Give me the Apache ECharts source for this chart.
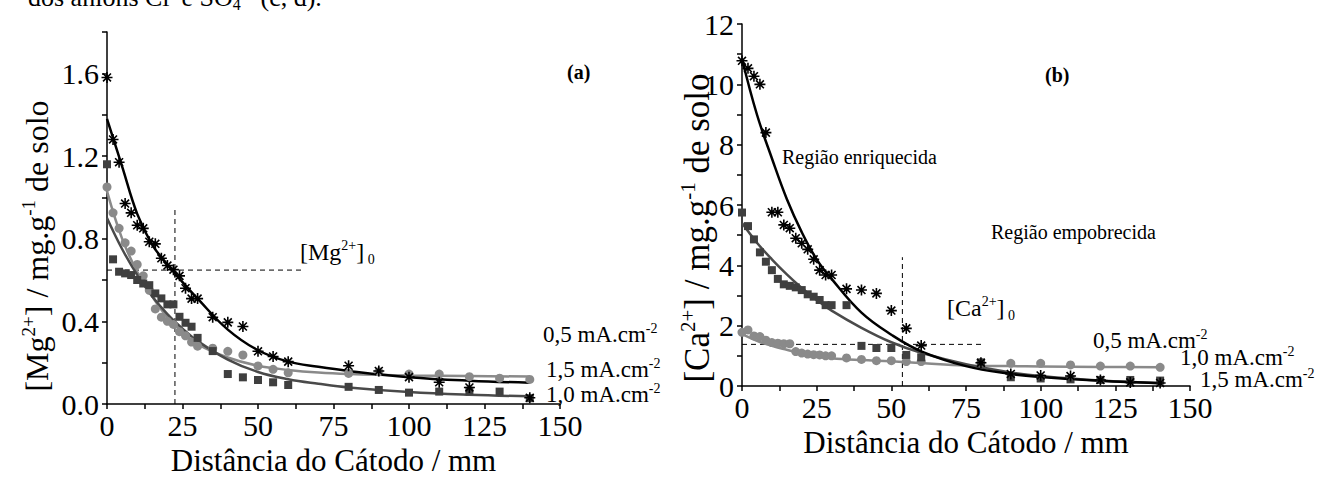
<!DOCTYPE html>
<html>
<head>
<meta charset="utf-8">
<title>Mg2+ e Ca2+ vs distância do cátodo</title>
<script src="https://cdn.jsdelivr.net/npm/echarts@6/dist/echarts.min.js"></script>
<style>
  html, body { margin: 0; padding: 0; background: #fff; }
  #chart { width: 1322px; height: 482px; }
</style>
</head>
<body>
<div id="chart"></div>
<script>
// ---- data: (a) Mg2+, mg/g de solo ----
const distMg = [0, 2, 4, 6, 8, 10, 12, 14, 16, 18, 20, 22, 24, 26, 28, 30, 35, 40, 45, 50, 55, 60, 80, 90, 100, 110, 120, 130, 140]
const mg05 = [1.05, 0.925, 0.85, 0.78, 0.74, 0.675, 0.62, 0.55, 0.46, 0.42, 0.40, 0.385, 0.35, 0.33, 0.30, 0.28, 0.27, 0.255, 0.237, 0.184, 0.168, 0.151, 0.148, 0.156, 0.145, 0.145, 0.132, 0.125, 0.119]
const mg10 = [1.16, 0.70, 0.64, 0.632, 0.624, 0.60, 0.583, 0.575, 0.535, 0.511, 0.482, 0.482, 0.422, 0.393, 0.374, 0.32, 0.256, 0.145, 0.129, 0.116, 0.105, 0.092, 0.083, 0.068, 0.055, 0.06, 0.064, 0.06, 0.028]
const distMg15 = [0, 2, 4, 6, 8, 10, 12, 14, 16, 18, 20, 22, 24, 26, 28, 30, 35, 40, 45, 50, 55, 60, 80, 90, 100, 110, 120, 140]
const mg15 = [1.58, 1.28, 1.17, 0.97, 0.925, 0.865, 0.85, 0.785, 0.775, 0.705, 0.67, 0.65, 0.62, 0.56, 0.51, 0.51, 0.42, 0.395, 0.375, 0.255, 0.23, 0.205, 0.185, 0.16, 0.13, 0.105, 0.08, 0.03]

// fitted curves
const fitDistMg = [0, 5, 10, 15, 20, 25, 30, 40, 50, 60, 70, 80, 100, 120, 140]
const fitMg05 = [1.03, 0.80, 0.64, 0.52, 0.42, 0.35, 0.29, 0.225, 0.185, 0.165, 0.152, 0.145, 0.138, 0.135, 0.133]
const fitMg10 = [0.90, 0.75, 0.625, 0.52, 0.435, 0.365, 0.305, 0.215, 0.155, 0.12, 0.098, 0.08, 0.058, 0.045, 0.037]
const fitMg15 = [1.38, 1.15, 0.92, 0.77, 0.675, 0.59, 0.51, 0.36, 0.26, 0.205, 0.18, 0.16, 0.13, 0.113, 0.103]

// [Mg2+]0 guide lines
const mgGuideV = [[22.5, 0], [22.5, 0.946]]
const mgGuideH = [[0, 0.648], [65, 0.648]]

// ---- data: (b) Ca2+, mg/g de solo ----
const distCa = [0, 2, 4, 6, 8, 10, 12, 14, 16, 18, 20, 22, 24, 26, 28, 30, 35, 40, 45, 50, 55, 60, 80, 90, 100, 110, 120, 130, 140]
const ca05 = [1.78, 1.86, 1.66, 1.64, 1.52, 1.44, 1.42, 1.40, 1.40, 1.14, 1.09, 1.06, 1.04, 1.03, 1.0, 1.0, 0.93, 0.88, 0.84, 0.84, 0.81, 0.81, 0.78, 0.75, 0.75, 0.70, 0.66, 0.66, 0.62]
const ca10 = [5.75, 5.3, 4.86, 4.43, 4.12, 3.84, 3.55, 3.37, 3.32, 3.27, 3.18, 3.04, 2.96, 2.85, 2.68, 2.68, 2.68, 1.33, 1.26, 1.26, 1.03, 0.95, 0.78, 0.29, 0.25, 0.22, 0.2, 0.2, 0.18]
const ca15 = [10.78, 10.53, 10.27, 10.0, 8.4, 5.76, 5.76, 5.34, 5.23, 4.9, 4.73, 4.53, 4.2, 3.84, 3.68, 3.68, 3.22, 3.18, 3.07, 2.5, 1.91, 1.34, 0.77, 0.40, 0.35, 0.33, 0.2, 0.12, 0.1]

const fitDistCa = [0, 5, 10, 15, 20, 25, 30, 40, 50, 60, 75, 90, 100, 120, 140]
const fitCa05 = [1.72, 1.5, 1.33, 1.2, 1.08, 0.99, 0.92, 0.86, 0.82, 0.76, 0.68, 0.66, 0.65, 0.63, 0.62]
const fitCa10 = [5.4, 4.75, 4.2, 3.7, 3.25, 2.85, 2.5, 1.93, 1.45, 1.1, 0.72, 0.45, 0.33, 0.18, 0.1]
const fitCa15 = [10.85, 9.0, 7.55, 6.2, 5.1, 4.2, 3.55, 2.43, 1.7, 1.15, 0.66, 0.4, 0.3, 0.17, 0.09]

const caGuideV = [[53.7, 0], [53.7, 4.27]]
const caGuideH = [[0, 1.38], [81, 1.38]]

// ---- look ----
const FONT = 'Liberation Serif'
const LIGHT = '#8a8a8a'
const DARK = '#4a4a4a'
const BLACK = '#000000'
const STAR = 'path://M0,-5L0,5M-5,0L5,0M-3.6,-3.6L3.6,3.6M-3.6,3.6L3.6,-3.6'

const pairs = (xs, ys) => xs.map((x, i) => [x, ys[i]])

// rich text styles: n = normal, sup = superscript, sub = subscript
function richFor(size, color) {
  const small = Math.round(size * 0.6)
  return {
    n: { fontFamily: FONT, fontSize: size, color, lineHeight: Math.round(size * 1.15) },
    sup: { fontFamily: FONT, fontSize: small, color, lineHeight: Math.round(small * 0.9), verticalAlign: 'top' },
    sub: { fontFamily: FONT, fontSize: small, color, lineHeight: Math.round(small * 0.7), verticalAlign: 'bottom' }
  }
}

function xAxisFor(gridIndex) {
  return {
    type: 'value',
    gridIndex,
    min: 0,
    max: 150,
    interval: 25,
    splitLine: { show: false },
    axisLine: { onZero: false, lineStyle: { color: '#000', width: 1.5 } },
    axisTick: { length: 5, lineStyle: { color: '#000', width: 1.5 } },
    minorTick: { show: true, splitNumber: 2, length: 5, lineStyle: { color: '#000', width: 1.5 } },
    axisLabel: { fontFamily: FONT, fontSize: 30, color: '#000', margin: 6 },
    name: 'Distância do Cátodo / mm',
    nameLocation: 'middle',
    nameGap: 40,
    nameTextStyle: { fontFamily: FONT, fontSize: 31, color: '#000' }
  }
}

function yAxisFor(gridIndex, max, interval, digits) {
  return {
    type: 'value',
    gridIndex,
    min: 0,
    max,
    interval,
    splitLine: { show: false },
    axisLine: { onZero: false, lineStyle: { color: '#000', width: 1.5 } },
    axisTick: { length: 5, lineStyle: { color: '#000', width: 1.5 } },
    minorTick: { show: true, splitNumber: 2, length: 5, lineStyle: { color: '#000', width: 1.5 } },
    axisLabel: {
      fontFamily: FONT, fontSize: 30, color: '#000', margin: 8,
      formatter: v => (v > max - interval / 2 && max % interval !== 0) ? '' : v.toFixed(digits)
    }
  }
}

function fitLine(name, xi, yi, xs, ys, color) {
  return {
    name, type: 'line', xAxisIndex: xi, yAxisIndex: yi,
    data: pairs(xs, ys), smooth: 0.4, showSymbol: false, symbol: 'none',
    lineStyle: { color, width: 2.5 }, z: 2, silent: true
  }
}

function dots(name, xi, yi, xs, ys, symbol, size, color, stroke) {
  const s = {
    name, type: 'scatter', xAxisIndex: xi, yAxisIndex: yi,
    data: pairs(xs, ys), symbol, symbolSize: size,
    itemStyle: { color, opacity: 1 }, z: 3
  }
  if (stroke) {
    s.itemStyle = { color: 'none', borderColor: color, borderWidth: 1.6, opacity: 1 }
  }
  return s
}

function guide(xi, yi, pts) {
  return {
    type: 'line', xAxisIndex: xi, yAxisIndex: yi, data: pts,
    showSymbol: false, symbol: 'none', silent: true, z: 1,
    lineStyle: { color: '#000', width: 1, type: [5, 4] }
  }
}

function note(x, y, text, size, color, opts) {
  return Object.assign({
    type: 'text', x, y, silent: true,
    style: {
      text, rich: richFor(size, color),
      align: 'left', verticalAlign: 'middle', textAlign: 'left', textVerticalAlign: 'middle'
    }
  }, opts || {})
}

function plain(x, y, text, size, weight) {
  return {
    type: 'text', x, y, silent: true,
    style: {
      text, fontFamily: FONT, fontSize: size, fontWeight: weight || 'normal', fill: '#000',
      align: 'left', verticalAlign: 'middle', textAlign: 'left', textVerticalAlign: 'middle'
    }
  }
}

const chart = echarts.init(document.getElementById('chart'), null, { renderer: 'svg' })

const option = {
  animation: false,
  backgroundColor: '#fff',
  grid: [
    { left: 107, top: 32, width: 453, height: 372 },
    { left: 742, top: 24, width: 448, height: 362 }
  ],
  xAxis: [xAxisFor(0), xAxisFor(1)],
  yAxis: [yAxisFor(0, 1.8, 0.4, 1), yAxisFor(1, 12, 2, 0)],
  series: [
    guide(0, 0, mgGuideV),
    guide(0, 0, mgGuideH),
    fitLine('ajuste 0,5', 0, 0, fitDistMg, fitMg05, LIGHT),
    fitLine('ajuste 1,0', 0, 0, fitDistMg, fitMg10, DARK),
    fitLine('ajuste 1,5', 0, 0, fitDistMg, fitMg15, BLACK),
    dots('0,5 mA.cm-2', 0, 0, distMg, mg05, 'circle', 9, LIGHT),
    dots('1,0 mA.cm-2', 0, 0, distMg, mg10, 'rect', 8, '#3f3f3f'),
    dots('1,5 mA.cm-2', 0, 0, distMg15, mg15, STAR, 11, BLACK, true),

    guide(1, 1, caGuideV),
    guide(1, 1, caGuideH),
    fitLine('ajuste 0,5', 1, 1, fitDistCa, fitCa05, LIGHT),
    fitLine('ajuste 1,0', 1, 1, fitDistCa, fitCa10, DARK),
    fitLine('ajuste 1,5', 1, 1, fitDistCa, fitCa15, BLACK),
    dots('0,5 mA.cm-2', 1, 1, distCa, ca05, 'circle', 9, LIGHT),
    dots('1,0 mA.cm-2', 1, 1, distCa, ca10, 'rect', 8, '#3f3f3f'),
    dots('1,5 mA.cm-2', 1, 1, distCa, ca15, STAR, 11, BLACK, true)
  ],
  graphic: [
    // page text cut off above the figure, as in the source page
    note(28, -3, '{n|dos ânions Cl}{sup|-}{n| e SO}{sub|4}{sup|2-}{n| (c, d).}', 26, '#000'),
    // y titles
    {
      type: 'text', x: 37, y: 246, rotation: Math.PI / 2, silent: true,
      style: {
        text: '{n|[Mg}{sup|2+}{n|] / mg.g}{sup|-1}{n| de solo}',
        rich: richFor(32, '#000'),
        align: 'center', verticalAlign: 'middle', textAlign: 'center', textVerticalAlign: 'middle'
      }
    },
    {
      type: 'text', x: 697, y: 228, rotation: Math.PI / 2, silent: true,
      style: {
        text: '{n|[Ca}{sup|2+}{n|] / mg.g}{sup|-1}{n| de solo}',
        rich: richFor(35, '#000'),
        align: 'center', verticalAlign: 'middle', textAlign: 'center', textVerticalAlign: 'middle'
      }
    },
    // panel tags
    plain(567, 72, '(a)', 20, 'bold'),
    plain(1045, 75, '(b)', 20, 'bold'),
    // annotations (a)
    note(300, 252, '{n|[Mg}{sup|2+}{n|]}{sub| 0}', 24, '#000'),
    note(543, 334, '{n|0,5 mA.cm}{sup|-2}', 23, '#8a8a8a'),
    note(546, 369, '{n|1,5 mA.cm}{sup|-2}', 23, '#000'),
    note(546, 394, '{n|1,0 mA.cm}{sup|-2}', 23, '#7a7a7a'),
    // annotations (b)
    plain(782, 157, 'Região enriquecida', 20),
    plain(991, 232, 'Região empobrecida', 20),
    note(947, 308, '{n|[Ca}{sup|2+}{n|]}{sub| 0}', 24, '#000'),
    note(1093, 340, '{n|0,5 mA.cm}{sup|-2}', 23, '#8a8a8a'),
    note(1180, 357, '{n|1,0 mA.cm}{sup|-2}', 23, '#444'),
    note(1200, 379, '{n|1,5 mA.cm}{sup|-2}', 23, '#000')
  ]
}

chart.setOption(option)
</script>
</body>
</html>
